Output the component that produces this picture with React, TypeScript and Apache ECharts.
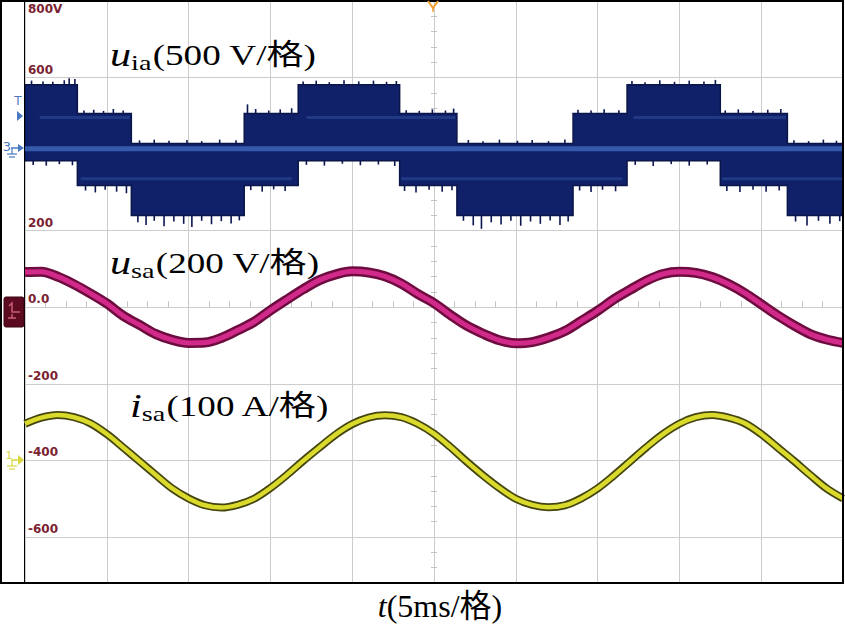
import React, { useEffect, useRef } from "react";
import * as echarts from "echarts";

// ---- axis / ticks ----
const timeMin = 0; // ms
const timeMax = 50; // ms (10 divisions x 5 ms)
const yMin = -720;
const yMax = 800;
const yTickValues = [800, 600, 400, 200, 0, -200, -400, -600];
const yTickLabels = ["800V", "600", "400", "200", "0.0", "-200", "-400", "-600"];

// ---- u_ia (multilevel PWM band) ----
// [tStart(ms), tEnd(ms), upper level, lower level]
const uiaSegments: [number, number, number, number][] = [
  [0, 3.2, 581, 383],
  [3.2, 6.5, 506, 318],
  [6.5, 13.4, 428, 240],
  [13.4, 16.7, 506, 318],
  [16.7, 22.9, 581, 383],
  [22.9, 26.4, 506, 318],
  [26.4, 33.5, 428, 240],
  [33.5, 36.8, 506, 318],
  [36.8, 42.5, 581, 383],
  [42.5, 46.6, 506, 318],
  [46.6, 50, 428, 240],
];
// switching spikes on the envelope: [t, from, to]
const uiaUpperSpikes: [number, number, number][] = [
  [0.4, 581, 592], [1.1, 581, 590], [1.7, 581, 589], [2.4, 581, 593], [2.7, 581, 598], [3.05, 581, 596],
  [3.6, 506, 514], [4.2, 506, 516], [4.8, 506, 513], [5.4, 506, 518], [6.0, 506, 514],
  [7.0, 428, 436], [7.9, 428, 438], [8.8, 428, 435], [9.9, 428, 437], [10.8, 428, 434], [11.9, 428, 438], [12.9, 428, 436],
  [13.6, 506, 530], [14.1, 506, 518], [14.9, 506, 514], [15.6, 506, 517], [16.3, 506, 520],
  [17.0, 581, 590], [17.8, 581, 592], [18.6, 581, 588], [19.5, 581, 593], [20.4, 581, 590], [21.3, 581, 592], [22.1, 581, 589], [22.7, 581, 591],
  [23.3, 506, 515], [24.1, 506, 513], [24.9, 506, 517], [25.7, 506, 514], [26.2, 506, 519],
  [27.1, 428, 437], [28.0, 428, 434], [29.0, 428, 438], [30.1, 428, 435], [31.0, 428, 437], [32.0, 428, 434], [33.0, 428, 438],
  [33.8, 506, 516], [34.6, 506, 514], [35.4, 506, 517], [36.3, 506, 515],
  [37.1, 581, 591], [37.9, 581, 588], [38.8, 581, 593], [39.7, 581, 589], [40.6, 581, 592], [41.5, 581, 590], [42.2, 581, 594],
  [42.8, 506, 514], [43.6, 506, 517], [44.5, 506, 513], [45.4, 506, 516], [46.2, 506, 518],
  [47.0, 428, 436], [47.9, 428, 434], [48.8, 428, 438], [49.6, 428, 435],
];
const uiaLowerSpikes: [number, number, number][] = [
  [0.5, 383, 372], [1.3, 383, 370], [2.1, 383, 374], [2.9, 383, 371],
  [3.7, 318, 305], [4.3, 318, 300], [4.9, 318, 307], [5.6, 318, 302], [6.2, 318, 298],
  [6.9, 240, 222], [7.4, 240, 215], [7.9, 240, 226], [8.5, 240, 212], [9.1, 240, 224], [9.7, 240, 218], [10.2, 240, 210], [10.8, 240, 226], [11.4, 240, 217], [12.0, 240, 225], [12.6, 240, 219], [13.1, 240, 227],
  [13.8, 318, 306], [14.5, 318, 302], [15.2, 318, 308], [15.9, 318, 304],
  [17.2, 383, 372], [18.3, 383, 370], [19.4, 383, 375], [20.5, 383, 371], [21.6, 383, 373], [22.6, 383, 369],
  [23.2, 318, 304], [23.9, 318, 300], [24.7, 318, 307], [25.5, 318, 302], [26.1, 318, 306],
  [26.8, 240, 226], [27.4, 240, 214], [27.9, 240, 205], [28.5, 240, 222], [29.1, 240, 216], [29.7, 240, 226], [30.3, 240, 213], [30.9, 240, 224], [31.5, 240, 218], [32.1, 240, 227], [32.7, 240, 215], [33.2, 240, 224],
  [33.9, 318, 305], [34.6, 318, 301], [35.3, 318, 307], [36.1, 318, 303],
  [37.3, 383, 372], [38.4, 383, 369], [39.5, 383, 374], [40.6, 383, 370], [41.7, 383, 373],
  [42.9, 318, 304], [43.7, 318, 301], [44.5, 318, 307], [45.3, 318, 302], [46.1, 318, 305],
  [47.1, 240, 224], [47.8, 240, 214], [48.5, 240, 226], [49.2, 240, 218], [49.8, 240, 225],
];
const uiaCenterLine: [number, number][] = [[0, 414], [50, 414]];
const uiaStripeHigh: [number, number][][] = [
  [[0.9, 496], [6.4, 496]],
  [[17.2, 496], [26.3, 496]],
  [[37.2, 496], [46.5, 496]],
];
const uiaStripeLow: [number, number][][] = [
  [[3.4, 336], [16.3, 336]],
  [[23.0, 336], [36.5, 336]],
  [[42.6, 336], [50, 336]],
];

// ---- sampled waveforms (every 1 ms) ----
const sampleTimes = [
  0, 1, 2, 3, 4, 5, 6, 7, 8, 9, 10, 11, 12, 13, 14, 15, 16, 17, 18, 19, 20,
  21, 22, 23, 24, 25, 26, 27, 28, 29, 30, 31, 32, 33, 34, 35, 36, 37, 38, 39, 40,
  41, 42, 43, 44, 45, 46, 47, 48, 49, 50,
];
const usaValues = [
  92, 93, 80, 60, 36, 10, -22, -46, -70, -85, -93, -92, -80, -60, -38, -8, 20, 47, 71, 86, 94,
  91, 81, 62, 35, 11, -20, -48, -69, -86, -94, -91, -79, -62, -36, -9, 21, 46, 70, 87, 93,
  90, 79, 61, 37, 8, -21, -47, -70, -84, -93,
];
const isaValues = [
  -304, -288, -281, -287, -303, -331, -366, -402, -438, -473, -499, -517, -523, -516, -500, -472, -438, -401, -366, -332, -305,
  -288, -282, -287, -304, -330, -365, -403, -439, -472, -500, -516, -522, -517, -499, -473, -439, -402, -365, -331, -304,
  -287, -281, -288, -303, -331, -366, -401, -438, -473, -499,
];

const serif = "'Liberation Serif', 'Times New Roman', 'Noto Sans CJK SC', serif";

function annotation(x: number, y: number, sym: string, sub: string, rest: string) {
  return {
    type: "text",
    z: 110,
    x,
    y,
    scaleX: 1.28,
    style: {
      text: `{u|${sym}}{s|${sub}}{n|${rest}}`,
      verticalAlign: "middle",
      fill: "#000",
      rich: {
        u: { fontFamily: serif, fontStyle: "italic", fontSize: 33, fill: "#000" },
        s: { fontFamily: serif, fontSize: 22, fill: "#000", padding: [14, 1, 0, 0] },
        n: { fontFamily: serif, fontSize: 29, fill: "#000" },
      },
    },
  };
}

export default function App() {
  const ref = useRef<HTMLDivElement>(null);

  useEffect(() => {
    if (!ref.current) return;
    const chart = echarts.init(ref.current, undefined, { renderer: "svg" });

    const usaData = sampleTimes.map((t, i) => [t, usaValues[i]]);
    const isaData = sampleTimes.map((t, i) => [t, isaValues[i]]);

    const labelFont = {
      color: "#7a2231",
      fontWeight: "bold" as const,
      fontSize: 12,
      fontFamily: "'DejaVu Sans', Verdana, sans-serif",
    };

    const blueMarker = "#4a78c0";
    const yellowMarker = "#d8d840";

    const option: any = {
      animation: false,
      backgroundColor: "#ffffff",
      grid: {
        left: 25,
        top: 1,
        width: 818,
        height: 582,
        show: true,
        borderColor: "#000",
        borderWidth: 2,
        backgroundColor: "#fff",
      },
      xAxis: [
        {
          type: "value",
          min: timeMin,
          max: timeMax,
          interval: 5,
          axisLine: { show: false },
          axisTick: { show: false },
          axisLabel: { show: false },
          splitLine: { show: true, lineStyle: { color: "#cdcdcd", width: 1 } },
        },
        {
          type: "value",
          min: timeMin,
          max: timeMax,
          interval: 1.25,
          position: "bottom",
          offset: -273,
          axisLine: { show: false },
          axisTick: { show: true, inside: true, length: 6, lineStyle: { color: "#c4c4c4" } },
          axisLabel: { show: false },
          splitLine: { show: false },
        },
      ],
      yAxis: [
        {
          type: "value",
          min: yMin,
          max: yMax,
          axisLine: { show: false },
          axisTick: { show: false },
          axisLabel: { show: false },
          splitLine: { show: false },
        },
        {
          type: "value",
          min: yMin,
          max: yMax,
          interval: 40,
          position: "left",
          offset: -406,
          axisLine: { show: false },
          axisTick: { show: true, inside: true, length: 6, lineStyle: { color: "#c4c4c4" } },
          axisLabel: { show: false },
          splitLine: { show: false },
        },
      ],
      series: [
        {
          name: "grid",
          type: "line",
          data: [],
          z: 1,
          silent: true,
          markLine: {
            z: 1,
            silent: true,
            symbol: ["none", "none"],
            lineStyle: { color: "#cdcdcd", width: 1, type: "solid" },
            label: { show: true, ...labelFont, distance: [3, 2] },
            data: yTickValues.map((v, i) => ({
              yAxis: v,
              label: {
                formatter: yTickLabels[i],
                position: v === 800 ? "insideStartBottom" : "insideStartTop",
              },
            })),
          },
        },
        {
          name: "u_ia",
          type: "custom",
          z: 3,
          clip: true,
          data: [[0, 414]],
          encode: { x: 0, y: 1 },
          renderItem: (_params: any, api: any) => {
            const up: number[][] = [];
            const lo: number[][] = [];
            uiaSegments.forEach(([t0, t1, u, l]) => {
              up.push(api.coord([t0, u]), api.coord([t1, u]));
              lo.push(api.coord([t0, l]), api.coord([t1, l]));
            });
            const children: any[] = [
              {
                type: "polygon",
                shape: { points: up.concat(lo.reverse()) },
                style: { fill: "#10216a", stroke: "#0a1548", lineWidth: 1.5 },
              },
            ];
            uiaUpperSpikes.concat(uiaLowerSpikes).forEach(([t, a, b]) => {
              const p0 = api.coord([t, a]);
              const p1 = api.coord([t, b]);
              children.push({
                type: "line",
                shape: { x1: p0[0], y1: p0[1], x2: p1[0], y2: p1[1] },
                style: { stroke: "#0b1650", lineWidth: 1.6 },
              });
            });
            uiaStripeHigh.concat(uiaStripeLow).forEach((seg) => {
              children.push({
                type: "polyline",
                shape: { points: seg.map((p) => api.coord(p)) },
                style: { stroke: "#24408c", lineWidth: 3, fill: null, opacity: 0.8 },
              });
            });
            children.push({
              type: "polyline",
              shape: { points: uiaCenterLine.map((p) => api.coord(p)) },
              style: { stroke: "#3559ab", lineWidth: 5, fill: null },
            });
            return { type: "group", children };
          },
        },
        {
          name: "u_sa outline",
          type: "line",
          z: 4,
          data: usaData,
          smooth: 0.35,
          showSymbol: false,
          silent: true,
          lineStyle: { color: "#6e0b3f", width: 10 },
        },
        {
          name: "u_sa",
          type: "line",
          z: 5,
          data: usaData,
          smooth: 0.35,
          showSymbol: false,
          silent: true,
          lineStyle: { color: "#d22a8a", width: 5 },
        },
        {
          name: "i_sa outline",
          type: "line",
          z: 4,
          data: isaData,
          smooth: 0.35,
          showSymbol: false,
          silent: true,
          lineStyle: { color: "#45450f", width: 8 },
        },
        {
          name: "i_sa",
          type: "line",
          z: 5,
          data: isaData,
          smooth: 0.35,
          showSymbol: false,
          silent: true,
          lineStyle: { color: "#dada2c", width: 4.5 },
        },
      ],
      graphic: [
        // outer frame
        {
          type: "rect",
          z: 100,
          shape: { x: 1, y: 1, width: 842, height: 582 },
          style: { fill: "none", stroke: "#000", lineWidth: 2 },
          silent: true,
        },
        // trigger marker
        {
          type: "polyline",
          z: 101,
          shape: { points: [[428, 1], [433, 8], [438, 1]] },
          style: { stroke: "#f0a030", lineWidth: 2, fill: "none" },
        },
        {
          type: "line",
          z: 101,
          shape: { x1: 433, y1: 8, x2: 433, y2: 12 },
          style: { stroke: "#f0a030", lineWidth: 1.5 },
        },
        // channel markers (left margin)
        {
          type: "text",
          z: 101,
          x: 18,
          y: 101,
          style: { text: "T", fill: blueMarker, fontSize: 12, fontFamily: "'DejaVu Sans', sans-serif", align: "center", verticalAlign: "middle" },
        },
        { type: "polygon", z: 101, shape: { points: [[17, 111], [23, 116], [17, 121]] }, style: { fill: blueMarker } },
        {
          type: "text",
          z: 101,
          x: 7,
          y: 146,
          style: { text: "3", fill: blueMarker, fontSize: 13, fontFamily: "'DejaVu Sans', sans-serif", align: "center", verticalAlign: "middle" },
        },
        { type: "polygon", z: 101, shape: { points: [[18, 144], [24, 148], [18, 152]] }, style: { fill: blueMarker } },
        { type: "polyline", z: 101, shape: { points: [[11, 148], [18, 148]] }, style: { stroke: blueMarker, lineWidth: 1.5, fill: "none" } },
        { type: "polyline", z: 101, shape: { points: [[12, 148], [12, 154]] }, style: { stroke: blueMarker, lineWidth: 1.2, fill: "none" } },
        { type: "polyline", z: 101, shape: { points: [[7, 154], [17, 154]] }, style: { stroke: blueMarker, lineWidth: 1.2, fill: "none" } },
        { type: "polyline", z: 101, shape: { points: [[9, 157], [15, 157]] }, style: { stroke: blueMarker, lineWidth: 1.2, fill: "none" } },
        {
          type: "rect",
          z: 101,
          shape: { x: 4, y: 297, width: 20, height: 30, r: 2 },
          style: { fill: "#5c0a1f", stroke: "#3a0512", lineWidth: 1 },
        },
        { type: "polyline", z: 102, shape: { points: [[9, 306], [12, 303], [12, 312], [20, 312]] }, style: { stroke: "#c8607a", lineWidth: 1.5, fill: "none" } },
        { type: "polyline", z: 102, shape: { points: [[8, 318], [16, 318], [12, 318], [12, 314]] }, style: { stroke: "#c8607a", lineWidth: 1.5, fill: "none" } },
        {
          type: "text",
          z: 101,
          x: 9,
          y: 455,
          style: { text: "1", fill: yellowMarker, fontSize: 11, fontFamily: "'DejaVu Sans', sans-serif", align: "center", verticalAlign: "middle" },
        },
        { type: "polygon", z: 101, shape: { points: [[18, 455], [24, 460], [18, 465]] }, style: { fill: yellowMarker } },
        { type: "polyline", z: 101, shape: { points: [[11, 460], [18, 460]] }, style: { stroke: yellowMarker, lineWidth: 1.5, fill: "none" } },
        { type: "polyline", z: 101, shape: { points: [[12, 460], [12, 466]] }, style: { stroke: yellowMarker, lineWidth: 1.2, fill: "none" } },
        { type: "polyline", z: 101, shape: { points: [[7, 466], [17, 466]] }, style: { stroke: yellowMarker, lineWidth: 1.2, fill: "none" } },
        { type: "polyline", z: 101, shape: { points: [[9, 469], [15, 469]] }, style: { stroke: yellowMarker, lineWidth: 1.2, fill: "none" } },
        // annotations
        annotation(110, 55, "u", "ia", "(500 V/格)"),
        annotation(110, 263, "u", "sa", "(200 V/格)"),
        annotation(130, 406, "i", "sa", "(100 A/格)"),
        {
          type: "text",
          z: 110,
          x: 440,
          y: 606,
          style: {
            text: "{t|t}{n|(5ms/格)}",
            align: "center",
            verticalAlign: "middle",
            fill: "#000",
            rich: {
              t: { fontFamily: serif, fontStyle: "italic", fontSize: 32, fill: "#000" },
              n: { fontFamily: serif, fontSize: 32, fill: "#000" },
            },
          },
        },
      ],
    };

    chart.setOption(option);
    return () => {
      chart.dispose();
    };
  }, []);

  return (
    <div
      ref={ref}
      style={{ position: "absolute", left: 0, top: 0, width: 845, height: 628, background: "#fff" }}
    />
  );
}
